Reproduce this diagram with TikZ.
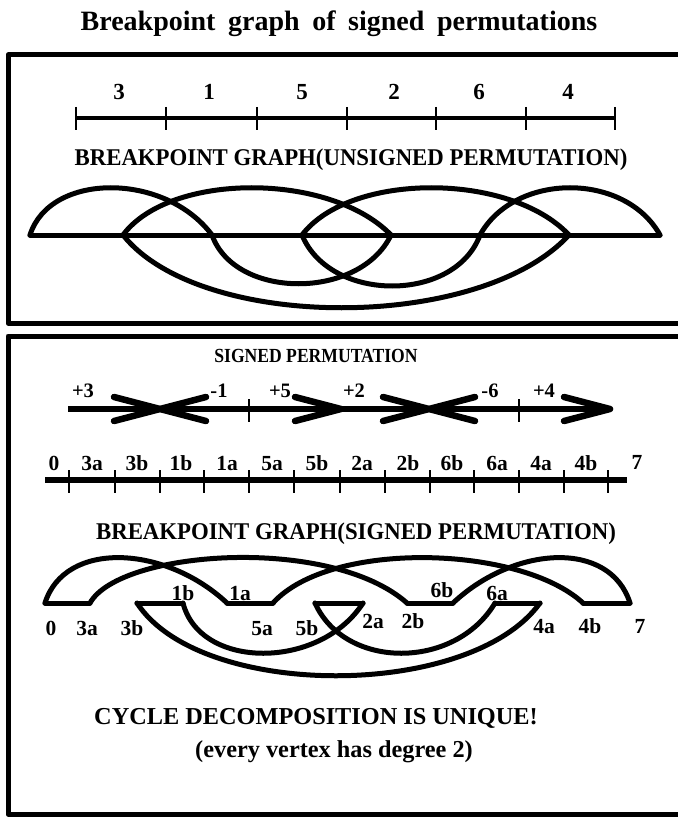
\documentclass[tikz,border=0pt]{standalone}
\usepackage{fontspec}
\setmainfont{Liberation Serif}
\newfontfamily\condf[FakeStretch=0.95]{Liberation Serif}
\newfontfamily\narrf[FakeStretch=0.88]{Liberation Serif}
\usetikzlibrary{calc}
\begin{document}
\begin{tikzpicture}[x=1pt,y=-1pt,line join=round,
  frame/.style={line width=5pt},
  axis/.style={line width=4.5pt},
  tickmark/.style={line width=1.6pt},
  edge/.style={line width=5pt,line cap=round},
  shaft/.style={line width=6pt},
  chev/.style={line width=6.5pt,line cap=round},
  lbl/.style={inner sep=0pt,anchor=base,font=\fontsize{21.5}{21.5}\selectfont\bfseries},
  alab/.style={inner sep=0pt,anchor=base,font=\fontsize{20.5}{20.5}\selectfont\bfseries},
  big/.style={inner sep=0pt,anchor=base,font=\fontsize{23}{23}\selectfont\bfseries},
  heading/.style={inner sep=0pt,anchor=base,font=\condf\fontsize{24}{24}\selectfont\bfseries},
  small/.style={inner sep=0pt,anchor=base,font=\narrf\fontsize{20}{20}\selectfont\bfseries},
  note/.style={inner sep=0pt,anchor=base,font=\fontsize{24.3}{24.3}\selectfont\bfseries},
  titlef/.style={inner sep=0pt,anchor=base,font=\fontsize{28}{28}\selectfont\bfseries}]
\useasboundingbox (0,0) rectangle (677,818);
\fill[white] (0,0) rectangle (677,818);

% title
\node[titlef] (title) at (339,31) {Breakpoint\hspace{0.45em}graph\hspace{0.45em}of\hspace{0.45em}signed\hspace{0.45em}permutations};

% frames
\draw[frame] (690,55) -- (8,55) -- (8,323) -- (690,323);
\draw[frame] (690,336) -- (8,336) -- (8,814) -- (690,814);

% ---------- unsigned permutation line ----------
\foreach \n/\x in {0/76,1/166,2/257,3/347,4/436,5/526,6/615}
  \coordinate (p\n) at (\x,118);
\draw[axis] (p0) -- (p6);
\foreach \n in {0,...,6}
  \draw[tickmark] ($(p\n)+(0,-11)$) -- ($(p\n)+(0,12)$);
\foreach \n/\x/\t in {a/119/3,b/209/1,c/302/5,d/394/2,e/479/6,f/568/4}
  \node[big] (pl\n) at (\x,100) {\t};

\node[heading] (hu) at (351,166) {BREAKPOINT GRAPH(UNSIGNED PERMUTATION)};

% ---------- unsigned breakpoint graph ----------
\foreach \n/\x in {0/30,3/123,1/212,5/302,2/391,6/480,4/569,7/660}
  \coordinate (u\n) at (\x,235);
\draw[edge] (u0) -- (u7);
\draw[edge] (u0) .. controls +(20,-63) and +(-47,-63) .. (u1);
\draw[edge] (u3) .. controls +(47,-63) and +(-61,-63) .. (u2);
\draw[edge] (u5) .. controls +(48,-63) and +(-59,-63) .. (u4);
\draw[edge] (u6) .. controls +(35,-63) and +(-35,-63) .. (u7);
\draw[edge] (u1) .. controls +(23,65) and +(-31,65) .. (u2);
\draw[edge] (u5) .. controls +(28,68) and +(-25,68) .. (u6);
\draw[edge] (u3) .. controls +(77,97) and +(-89,97) .. (u4);

% ---------- signed permutation arrows ----------
\node[small] (hs) at (316,362) {SIGNED PERMUTATION};
\foreach \n/\x in {0/68,1/160,2/249,3/341,4/429,5/519,6/610}
  \coordinate (a\n) at (\x,409);
\draw[shaft] (a0) -- (a6);
\foreach \n in {1,3,4,6}
  \draw[chev] ($(a\n)+(-46,-12)$) -- (a\n) -- ($(a\n)+(-46,12)$);
\foreach \n in {1,4}
  \draw[chev] ($(a\n)+(46,-12)$) -- (a\n) -- ($(a\n)+(46,12)$);
\foreach \n in {2,5}
  \draw[tickmark] ($(a\n)+(0,-10)$) -- ($(a\n)+(0,13)$);
\foreach \n/\x/\t in {a/83/+3,b/219/-1,c/280/+5,d/354/+2,e/490/-6,f/544/+4}
  \node[alab] (al\n) at (\x,397) {\t};

% ---------- signed permutation line ----------
\coordinate (l0) at (45,480);
\coordinate (l1) at (627,480);
\draw[line width=6pt] (l0) -- (l1);
\foreach \n/\x in {0/69,1/115,2/160,3/204,4/249,5/294,6/340,7/385,8/430,9/474,10/519,11/564,12/608}{
  \coordinate (k\n) at (\x,480);
  \draw[tickmark] ($(k\n)+(0,-10)$) -- ($(k\n)+(0,13)$);
}
\foreach \n/\x/\t in {a/54/0,b/92/3a,c/137/3b,d/181/1b,e/227/1a,f/272/5a,g/317/5b,h/362/2a,i/408/2b,j/452/6b,k/497/6a,l/541/4a,m/586/4b}
  \node[lbl] (ll\n) at (\x,470) {\t};
\node[lbl] (lln) at (637,469) {7};

\node[heading] (hg) at (356,539) {BREAKPOINT GRAPH(SIGNED PERMUTATION)};

% ---------- signed breakpoint graph ----------
\foreach \n/\x in {0/45,3a/90,3b/137,1b/183,1a/227,5a/273,5b/315,2a/363,2b/407,6b/453,6a/495,4a/540,4b/583,7/630}
  \coordinate (v\n) at (\x,603);
% black edges
\draw[edge] (v0) -- (v3a);
\draw[edge] (v3b) -- (v1b);
\draw[edge] (v1a) -- (v5a);
\draw[edge] (v5b) -- (v2a);
\draw[edge] (v2b) -- (v6b);
\draw[edge] (v6a) -- (v4a);
\draw[edge] (v4b) -- (v7);
% gray edges
\draw[edge] (v0) .. controls +(20,-63) and +(-62,-58) .. (v1a);
\draw[edge] (v3a) .. controls +(30,-53) and +(-77,-68) .. (v2b);
\draw[edge] (v5a) .. controls +(57,-63) and +(-63,-58) .. (v4b);
\draw[edge] (v6b) .. controls +(62,-58) and +(-20,-63) .. (v7);
\draw[edge] (v1b) .. controls +(17,67) and +(-43,67) .. (v2a);
\draw[edge] (v5b) .. controls +(30,67) and +(-40,67) .. (v6a);
\draw[edge] (v3b) .. controls +(63,97) and +(-70,97) .. (v4a);
% labels
\foreach \n/\x/\y/\t in {a/183/600/1b,b/240/600/1a,c/442/597/6b,d/497/600/6a,
  e/51/635/0,f/87/635/3a,g/132/635/3b,h/262/635/5a,i/307/635/5b,
  j/373/628/2a,k/413/628/2b,l/544/633/4a,m/590/633/4b,n/640/633/7}
  \node[lbl] (gl\n) at (\x,\y) {\t};

\node[note] (c1) at (316,724) {CYCLE DECOMPOSITION IS UNIQUE!};
\node[note] (c2) at (334,757) {(every vertex has degree 2)};
\end{tikzpicture}
\end{document}
